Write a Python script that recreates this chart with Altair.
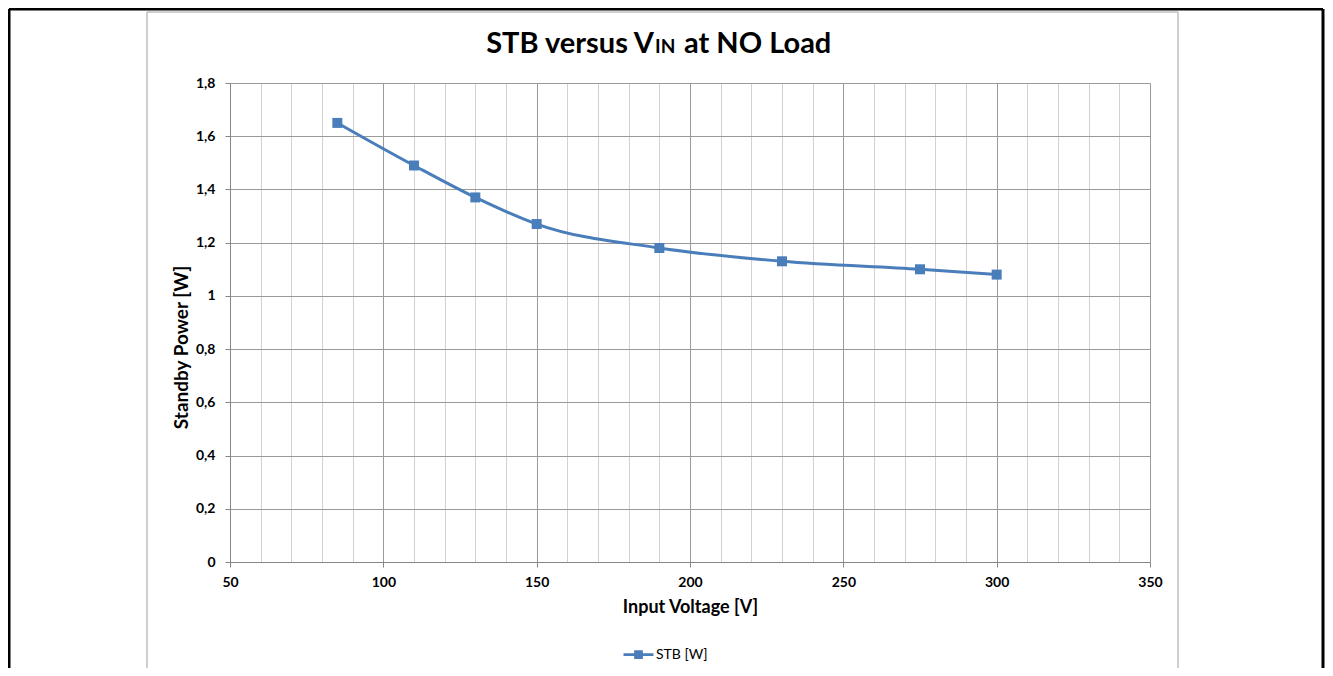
import altair as alt
import pandas as pd

# ---- data ----
vin = [85, 110, 130, 150, 190, 230, 275, 300]
stb = [1.65, 1.49, 1.37, 1.27, 1.18, 1.13, 1.10, 1.08]
series_name = "STB [W]"
x_ticks = list(range(50, 351, 10))
y_ticks = [0, 0.2, 0.4, 0.6, 0.8, 1.0, 1.2, 1.4, 1.6, 1.8]
title_main = ["STB versus V"]
title_sub = ["IN"]
title_tail = ["at NO Load"]
x_title = "Input Voltage [V]"
y_title = "Standby Power [W]"

df = pd.DataFrame({"vin": vin, "stb": stb, "series": [series_name] * len(vin)})
one = pd.DataFrame({"k": [0]})

FONT = "Lato"
BLUE = "#4a7ebb"
MAJOR = "#9a9a9a"
MINOR = "#d2d2d2"
DOMAIN = "#868686"

x_axis = alt.Axis(
    values=x_ticks,
    tickCount=100,
    title=x_title,
    titleFont=FONT, titleFontSize=18, titleFontWeight="bold", titleColor="black",
    titlePadding=9,
    labelFont=FONT, labelFontSize=14, labelFontWeight="bold", labelColor="black",
    labelPadding=8,
    labelExpr="datum.value % 50 === 0 ? datum.label : ''",
    labelFlush=False, labelOverlap=False,
    grid=True,
    gridColor={"condition": {"test": "datum.value % 50 === 0", "value": MAJOR}, "value": MINOR},
    gridWidth=1,
    ticks=True, tickSize=5, tickColor=DOMAIN,
    tickOpacity={"condition": {"test": "datum.value % 50 === 0", "value": 1}, "value": 0},
    domainColor=DOMAIN, domainWidth=1,
)

y_axis = alt.Axis(
    values=y_ticks,
    tickCount=100,
    title=y_title,
    titleFont=FONT, titleFontSize=19, titleFontWeight="bold", titleColor="black",
    titleX=-43, titleY=264, titleBaseline="alphabetic", titleAlign="center",
    labelFont=FONT, labelFontSize=14, labelFontWeight="bold", labelColor="black",
    labelPadding=10,
    labelExpr="replace(format(datum.value, '.2~f'), '.', ',')",
    grid=True, gridColor=MAJOR, gridWidth=1,
    ticks=True, tickSize=5, tickColor=DOMAIN,
    domainColor=DOMAIN, domainWidth=1,
)

x_enc = alt.X("vin:Q", scale=alt.Scale(domain=[50, 350], nice=False, zero=False), axis=x_axis)
y_enc = alt.Y("stb:Q", scale=alt.Scale(domain=[0, 1.8], nice=False), axis=y_axis)

base = alt.Chart(df)

line = base.mark_line(strokeWidth=3, interpolate="monotone").encode(
    x=x_enc,
    y=y_enc,
    color=alt.Color(
        "series:N",
        scale=alt.Scale(range=[BLUE]),
        legend=alt.Legend(
            orient="none", legendX=392, legendY=555, title=None, padding=0,
            symbolType="M-1,0H1M-0.2,-0.2H0.2V0.2H-0.2Z",
            symbolSize=900, symbolStrokeWidth=2.75,
            symbolFillColor=BLUE, symbolStrokeColor=BLUE,
            labelFont=FONT, labelFontSize=14, labelColor="black", labelOffset=1,
        ),
    ),
)

points = base.mark_point(shape="square", filled=True, size=100, opacity=1, color=BLUE).encode(
    x="vin:Q", y="stb:Q"
)

# title (with small-caps subscript "IN")
t1 = alt.Chart(pd.DataFrame({"t": title_main})).mark_text(
    font=FONT, fontSize=29, fontWeight="bold", color="black", align="right", baseline="alphabetic"
).encode(x=alt.value(424), y=alt.value(-30), text="t:N")
t2 = alt.Chart(pd.DataFrame({"t": title_sub})).mark_text(
    font=FONT, fontSize=19, fontWeight="bold", color="black", align="left", baseline="alphabetic"
).encode(x=alt.value(425), y=alt.value(-30), text="t:N")
t3 = alt.Chart(pd.DataFrame({"t": title_tail})).mark_text(
    font=FONT, fontSize=29, fontWeight="bold", color="black", align="left", baseline="alphabetic"
).encode(x=alt.value(454), y=alt.value(-30), text="t:N")

# frames: outer black frame and grey chart-area frame
def vrule(x, y1, y2, color, w):
    return alt.Chart(one).mark_rule(color=color, strokeWidth=w).encode(
        x=alt.value(x), y=alt.value(y1), y2=alt.value(y2)
    )

def hrule(x1, x2, y, color, w):
    return alt.Chart(one).mark_rule(color=color, strokeWidth=w).encode(
        x=alt.value(x1), x2=alt.value(x2), y=alt.value(y)
    )

frames = [
    vrule(-221, -74, 590, "black", 3),
    hrule(-221, 1093, -74, "black", 3),
    vrule(1093, -74, 590, "black", 3),
    vrule(-83, -71, 590, "#bfbfbf", 1.5),
    hrule(-83, 948, -71, "#bfbfbf", 1.5),
    vrule(948, -71, 590, "#bfbfbf", 1.5),
]

chart = alt.layer(line, points, t1, t2, t3, *frames).properties(
    width=920,
    height=479,
    autosize=alt.AutoSizeParams(type="none"),
    padding={"left": 222, "top": 75, "right": 175, "bottom": 106},
    background="white",
).configure_view(strokeWidth=0)

chart.save("out.html", embed_options={"renderer": "svg", "actions": False})
